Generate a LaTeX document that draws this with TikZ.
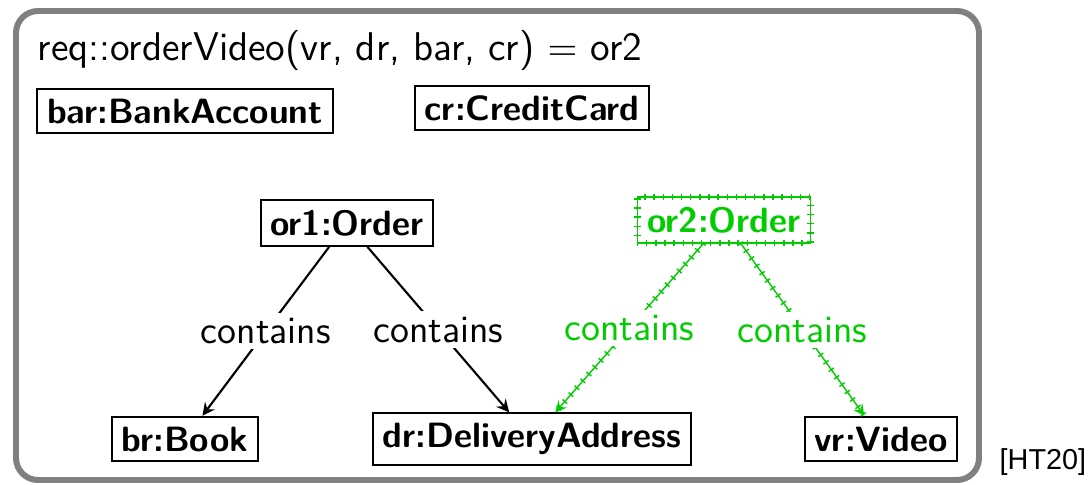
\documentclass[tikz,border=0pt]{standalone}
\usepackage{fontspec}
\newfontfamily\citefont{Liberation Sans}
\usetikzlibrary{arrows, decorations.markings}
\definecolor{mygreen}{RGB}{0, 204, 0}
\definecolor{mygray}{RGB}{128, 128, 128}

\tikzset{
    tickmarks/.style={postaction={decorate, decoration={markings,
        mark=between positions 0 and 1 step 2.6pt with {\draw[mygreen, thin, -] (0,-0.9pt) -- (0,0.9pt);}}}}
}

\begin{document}
\begin{tikzpicture}[
    obj/.style={rectangle, draw=black, semithick, inner sep=2.8pt, font=\fontsize{10}{12}\sffamily\bfseries},
    newobj/.style={obj, draw=mygreen, thin, text=mygreen, tickmarks},
    link/.style={semithick, ->, >=stealth},
    newlink/.style={link, thin, draw=mygreen, tickmarks},
    lbl/.style={midway, fill=white, inner sep=1.5pt, font=\fontsize{11}{13}\sffamily},
    frame/.style={draw=mygray, line width=1.7pt, rounded corners=0.22cm}
]
\useasboundingbox (0,0) rectangle (10.88,-4.85);

% Frame and title
\draw[frame] (0.16,-0.11) rectangle (9.79,-4.80);
\node[anchor=base west, inner sep=0pt, font=\fontsize{11.4}{14}\sffamily] (title) at (0.37,-0.60) {req::orderVideo(vr, dr, bar, cr) $=$ or2};

% Objects
\node[obj] (bar) at (1.85,-1.11) {bar:BankAccount};
\node[obj] (cr) at (5.32,-1.08) {cr:CreditCard};
\node[obj] (or1) at (3.47,-2.23) {or1:Order};
\node[newobj] (or2) at (7.24,-2.20) {or2:Order};
\node[obj] (br) at (1.85,-4.39) {br:Book};
\node[obj] (dr) at (5.32,-4.39) {dr:DeliveryAddress};
\node[obj] (vr) at (8.81,-4.39) {vr:Video};

% Links
\draw[link] (or1) -- (br) node[lbl] {contains};
\draw[link] (or1) -- (dr) node[lbl] {contains};
\draw[newlink] (or2) -- (dr) node[lbl, text=mygreen] {contains};
\draw[newlink] (or2) -- (vr) node[lbl, text=mygreen] {contains};

% Citation
\node[anchor=base west, inner sep=0pt, font=\fontsize{8.2}{10}\citefont] (cite) at (9.99,-4.69) {[HT20]};

\end{tikzpicture}
\end{document}
